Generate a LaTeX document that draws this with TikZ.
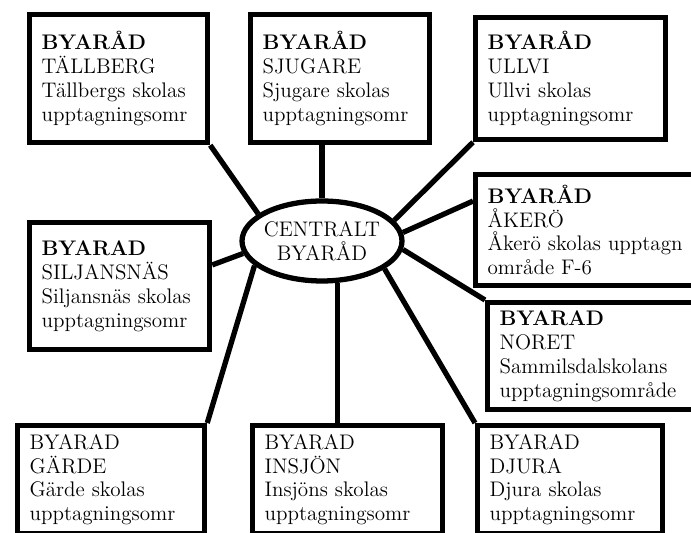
\documentclass[tikz,border=0pt]{standalone}
\usepackage{tikz}
\usetikzlibrary{shapes,calc}
\tikzset{%
  % Specifications for style of nodes:
         base/.style = {rectangle, draw=black, line width=3pt,
                        inner xsep=0.24cm, align=left,
                        font=\fontsize{12}{13.6}\selectfont},
       byarad/.style = {base, anchor=north west},
      central/.style = {ellipse, draw=black, line width=3pt, fill=white,
                        inner xsep=-2pt, inner ysep=0pt,
                        minimum width=3.2cm, minimum height=1.6cm,
                        align=center, font=\fontsize{12}{13.6}\selectfont},
         link/.style = {line width=3pt},
}

\begin{document}
\begin{tikzpicture}[x=0.02cm, y=-0.02cm]
\useasboundingbox (0,0) rectangle (691,533);

\node (TAL) [byarad, text width=3.08cm, minimum height=2.56cm] at (27,12)
  {\textbf{BYARÅD}\\TÄLLBERG\\Tällbergs skolas\\upptagningsomr};

\node (SJU) [byarad, text width=3.10cm, minimum height=2.56cm] at (248,12)
  {\textbf{BYARÅD}\\SJUGARE\\Sjugare skolas\\upptagningsomr};

\node (ULL) [byarad, text width=3.32cm, minimum height=2.44cm] at (473,15)
  {\textbf{BYARÅD}\\ULLVI\\Ullvi skolas\\upptagningsomr};

\node (SIL) [byarad, text width=3.12cm, minimum height=2.54cm] at (27,220)
  {\textbf{BYARAD}\\SILJANSNÄS\\Siljansnäs skolas\\upptagningsomr};

\node (AKE) [byarad, text width=4.02cm, minimum height=2.22cm] at (473,172)
  {\textbf{BYARÅD}\\ÅKERÖ\\Åkerö skolas upptagn\\område F-6};

\node (NOR) [byarad, text width=3.82cm, minimum height=2.14cm] at (485,300)
  {\textbf{BYARAD}\\NORET\\Sammilsdalskolans\\upptagningsområde};

\node (GAR) [byarad, text width=3.26cm, minimum height=2.16cm] at (15,423)
  {BYARAD\\GÄRDE\\Gärde skolas\\upptagningsomr};

\node (INS) [byarad, text width=3.32cm, minimum height=2.16cm] at (250,423)
  {BYARAD\\INSJÖN\\Insjöns skolas\\upptagningsomr};

\node (DJU) [byarad, text width=3.22cm, minimum height=2.16cm] at (475,423)
  {BYARAD\\DJURA\\Djura skolas\\upptagningsomr};

\node (CEN) [central] at (322,241) {CENTRALT\\BYARÅD};

\draw[link]   (TAL.south east) -- (CEN.157);
\draw[link]   (SJU.south -| CEN.north) -- (CEN.north);
\draw[link]   (ULL.south west) -- (CEN.16);
\draw[link]   ($(AKE.north west)!0.25!(AKE.south west)$) -- (CEN.6);
\draw[link]   (CEN.354) -- (NOR.north west);
\draw[link]   (CEN.336) -- (DJU.north west);
\draw[link]   (CEN.290) -- (CEN.290 |- INS.north);
\draw[link]   (CEN.200) -- (GAR.north east);
\draw[link]   ($(SIL.north east)!0.34!(SIL.south east)$) -- (CEN.189);
\end{tikzpicture}
\end{document}
